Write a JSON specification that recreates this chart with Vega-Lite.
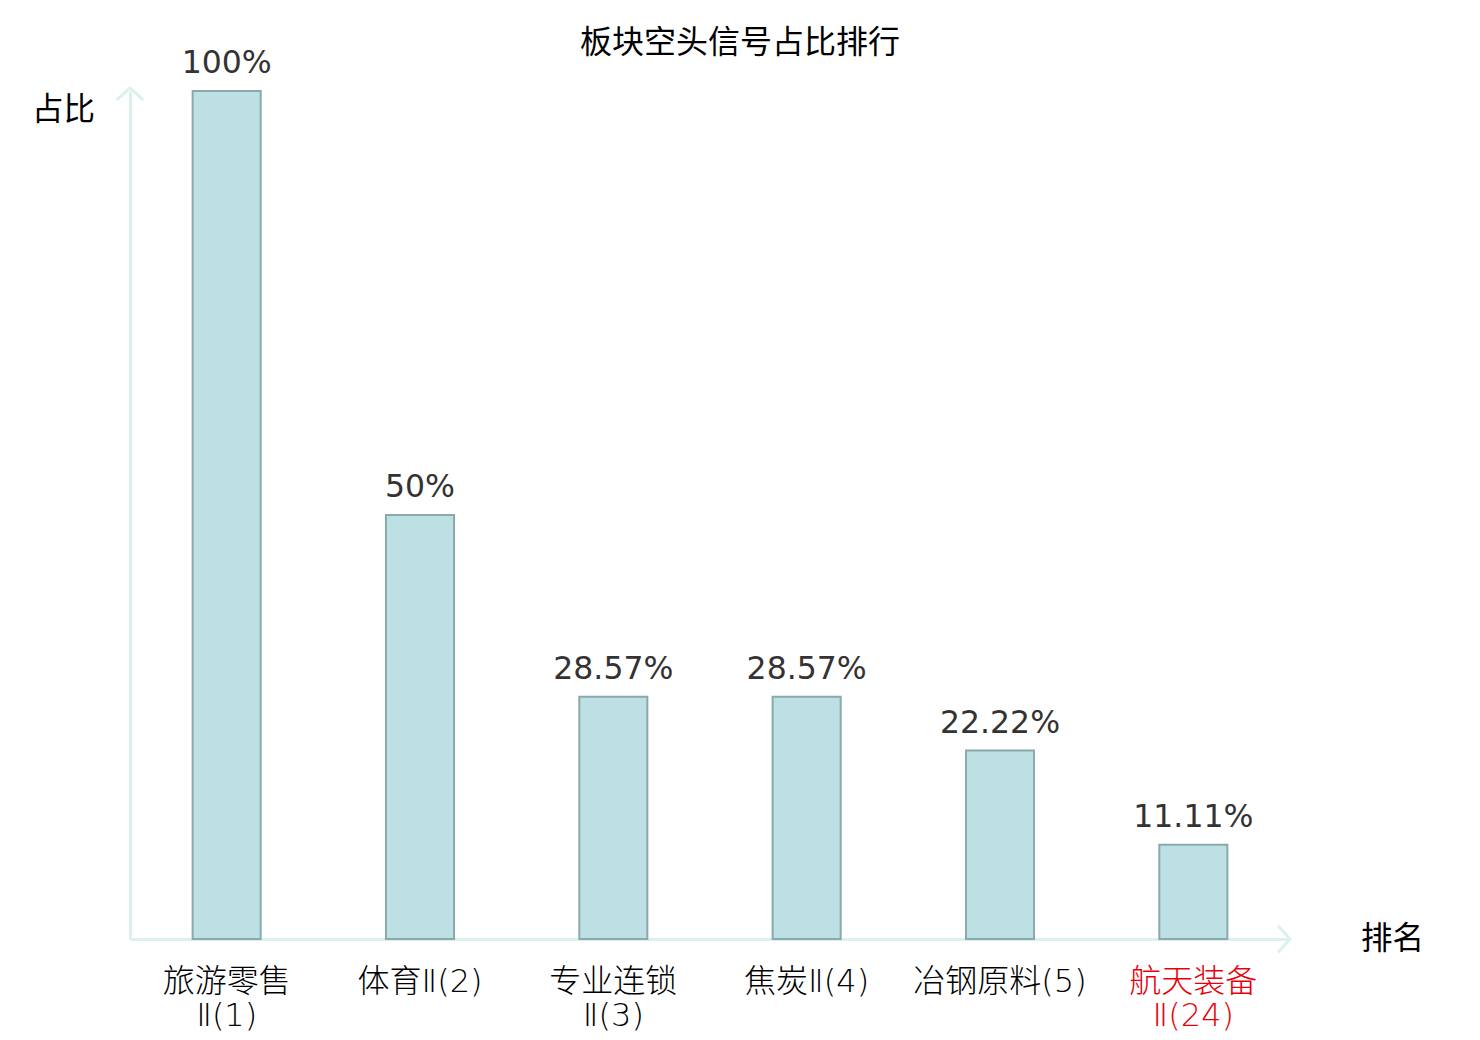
{
  "$schema": "https://vega.github.io/schema/vega-lite/v6.json",
  "width": 1160,
  "height": 848,
  "autosize": {"type": "none"},
  "padding": {"left": 130, "top": 91, "right": 190, "bottom": 101},
  "background": "white",
  "title": {
    "text": "板块空头信号占比排行",
    "font": "Noto Sans CJK SC",
    "fontSize": 32,
    "fontWeight": "normal",
    "color": "black",
    "anchor": "middle",
    "dx": 30,
    "dy": 42,
    "offset": 30
  },
  "config": {
    "view": {"stroke": null}
  },
  "layer": [
    {
      "data": {
        "values": [
          {"sector": "旅游零售Ⅱ(1)", "ratio": 1},
          {"sector": "体育Ⅱ(2)", "ratio": 0.5},
          {"sector": "专业连锁Ⅱ(3)", "ratio": 0.2857},
          {"sector": "焦炭Ⅱ(4)", "ratio": 0.2857},
          {"sector": "冶钢原料(5)", "ratio": 0.2222},
          {"sector": "航天装备Ⅱ(24)", "ratio": 0.1111}
        ]
      },
      "encoding": {
        "x": {
          "field": "sector",
          "type": "nominal",
          "sort": null,
          "scale": {"paddingInner": 0, "paddingOuter": 0},
          "axis": {
            "title": "排名",
            "titleFont": "Noto Sans CJK SC",
            "titleFontSize": 31.5,
            "titleFontWeight": "normal",
            "titleColor": "black",
            "titleX": 1262,
            "titleY": 0,
            "titleAlign": "center",
            "titleBaseline": "middle",
            "titleAngle": 0,
            "domainColor": "#dcf0ee",
            "domainWidth": 3,
            "ticks": false,
            "labelAngle": 0,
            "labelFont": "DejaVu Sans, Noto Sans CJK SC",
            "labelFontWeight": 300,
            "labelFontSize": 32,
            "labelPadding": 27,
            "labelLineHeight": 34,
            "labelBaseline": "top",
            "labelColor": {
              "condition": {"test": "datum.value == '航天装备Ⅱ(24)'", "value": "#e8000b"},
              "value": "black"
            },
            "labelExpr": "length(datum.value) > 7 ? [substring(datum.value, 0, 4), substring(datum.value, 4)] : datum.value"
          }
        },
        "y": {
          "field": "ratio",
          "type": "quantitative",
          "scale": {"domain": [0, 1]},
          "axis": {
            "title": "占比",
            "titleFont": "Noto Sans CJK SC",
            "titleFontSize": 31.5,
            "titleFontWeight": "normal",
            "titleColor": "black",
            "titleAngle": 0,
            "titleX": -67,
            "titleY": 19,
            "titleAlign": "center",
            "titleBaseline": "middle",
            "domainColor": "#dcf0ee",
            "domainWidth": 3,
            "ticks": false,
            "labels": false,
            "grid": false
          }
        }
      },
      "layer": [
        {
          "mark": {
            "type": "bar",
            "width": {"band": 0.352},
            "fill": "#bce0e3",
            "stroke": "#8aa9aa",
            "strokeWidth": 2
          }
        },
        {
          "mark": {
            "type": "text",
            "baseline": "alphabetic",
            "dy": -18,
            "font": "DejaVu Sans",
            "fontSize": 31.5,
            "color": "#333333"
          },
          "encoding": {
            "text": {"field": "ratio", "type": "quantitative", "format": ".4~p"}
          }
        }
      ]
    },
    {
      "data": {"values": [{"axis": "y"}]},
      "mark": {
        "type": "point",
        "shape": "M-1,0.9L0,0L1,0.9",
        "size": 700,
        "filled": false,
        "stroke": "#dcf0ee",
        "strokeWidth": 3,
        "opacity": 1,
        "x": {"expr": "0"},
        "y": {"expr": "-3"}
      },
      "encoding": {}
    },
    {
      "data": {"values": [{"axis": "x"}]},
      "mark": {
        "type": "point",
        "shape": "M-0.9,-1L0,0L-0.9,1",
        "size": 700,
        "filled": false,
        "stroke": "#dcf0ee",
        "strokeWidth": 3,
        "opacity": 1,
        "x": {"expr": "width"},
        "y": {"expr": "height"}
      },
      "encoding": {}
    }
  ]
}
